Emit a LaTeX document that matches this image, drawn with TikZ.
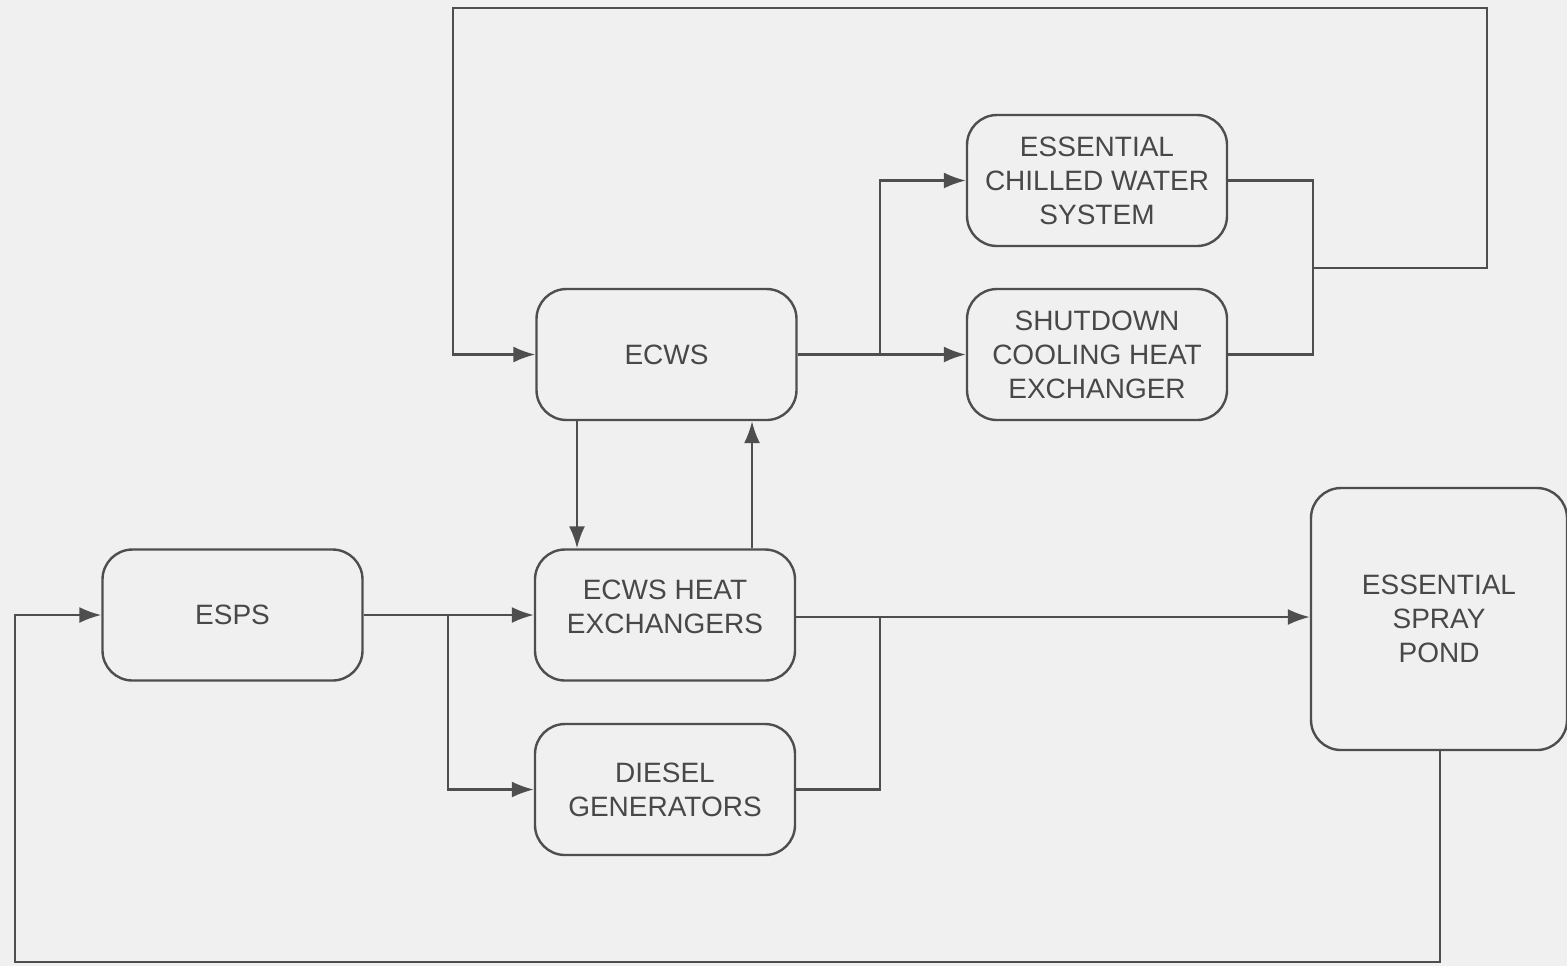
\documentclass[tikz,border=0pt]{standalone}
\usepackage{fontspec}
\setmainfont{Liberation Sans}
\usetikzlibrary{arrows.meta,calc}
\definecolor{bg}{RGB}{240,240,240}
\definecolor{ink}{RGB}{78,78,78}
\definecolor{txt}{RGB}{72,72,72}
\begin{document}
\begin{tikzpicture}[x=0.5pt,y=-0.5pt,
  blk/.style={draw=ink, line width=1.2pt, rounded corners=15pt, fill=bg,
    minimum width=130pt, minimum height=65.5pt, inner sep=0pt, align=center,
    text=txt, font=\fontsize{14}{17}\selectfont},
  ln/.style={draw=ink, line width=1.1pt},
  arr/.style={ln, -{Latex[length=11pt,width=8pt]}}]
\path[fill=bg] (0,0) rectangle (1567,966);
\useasboundingbox (0,0) rectangle (1567,966);

\node[blk] (ecws) at (666.5,354.5) {ECWS};
\node[blk] (chw) at (1097,180.5) {ESSENTIAL\\CHILLED WATER\\SYSTEM};
\node[blk] (sdc) at (1097,354.5) {SHUTDOWN\\COOLING HEAT\\EXCHANGER};
\node[blk] (esps) at (232.5,615) {ESPS};
\node[blk, text depth=8pt] (hx) at (665,615) {ECWS HEAT\\EXCHANGERS};
\node[blk] (dg) at (665,789.5) {DIESEL\\GENERATORS};
\node[blk, minimum width=128pt, minimum height=131pt] (pond) at (1439,619) {ESSENTIAL\\SPRAY\\POND};

% coordinates for connector bends
\coordinate (topR) at (1487,8);
\coordinate (topL) at (453,8);
\coordinate (jR) at (1313,268);
\coordinate (jU) at (880,354);
\coordinate (xdn) at (577,0);
\coordinate (xup) at (752,0);
\coordinate (jL) at (448,615);
\coordinate (jD) at (880,617);
\coordinate (botL) at (15,962);
\coordinate (botR) at (1440,962);

% top return loop
\draw[arr] (jR) -- (jR -| topR) -- (topR) -- (topL) -- (topL |- ecws.west) -- (ecws.west);
% ECWS to loads
\draw[arr] (ecws.east) -- (sdc.west);
\draw[arr] (jU) |- (chw.west);
% loads return
\draw[ln] (chw.east) -| (jR) |- (sdc.east);
% ECWS <-> HX
\draw[arr] (ecws.south -| xdn) -- (hx.north -| xdn);
\draw[arr] (hx.north -| xup) -- (ecws.south -| xup);
% ESPS supply
\draw[arr] (esps.east) -- (hx.west);
\draw[arr] (jL) |- (dg.west);
% to pond
\draw[arr] (hx.east |- jD) -- (pond.west |- jD);
\draw[ln] (dg.east) -| (jD);
% pond return
\draw[arr] (pond.south -| botR) -- (botR) -- (botL) -- (botL |- esps.west) -- (esps.west);
\end{tikzpicture}
\end{document}
